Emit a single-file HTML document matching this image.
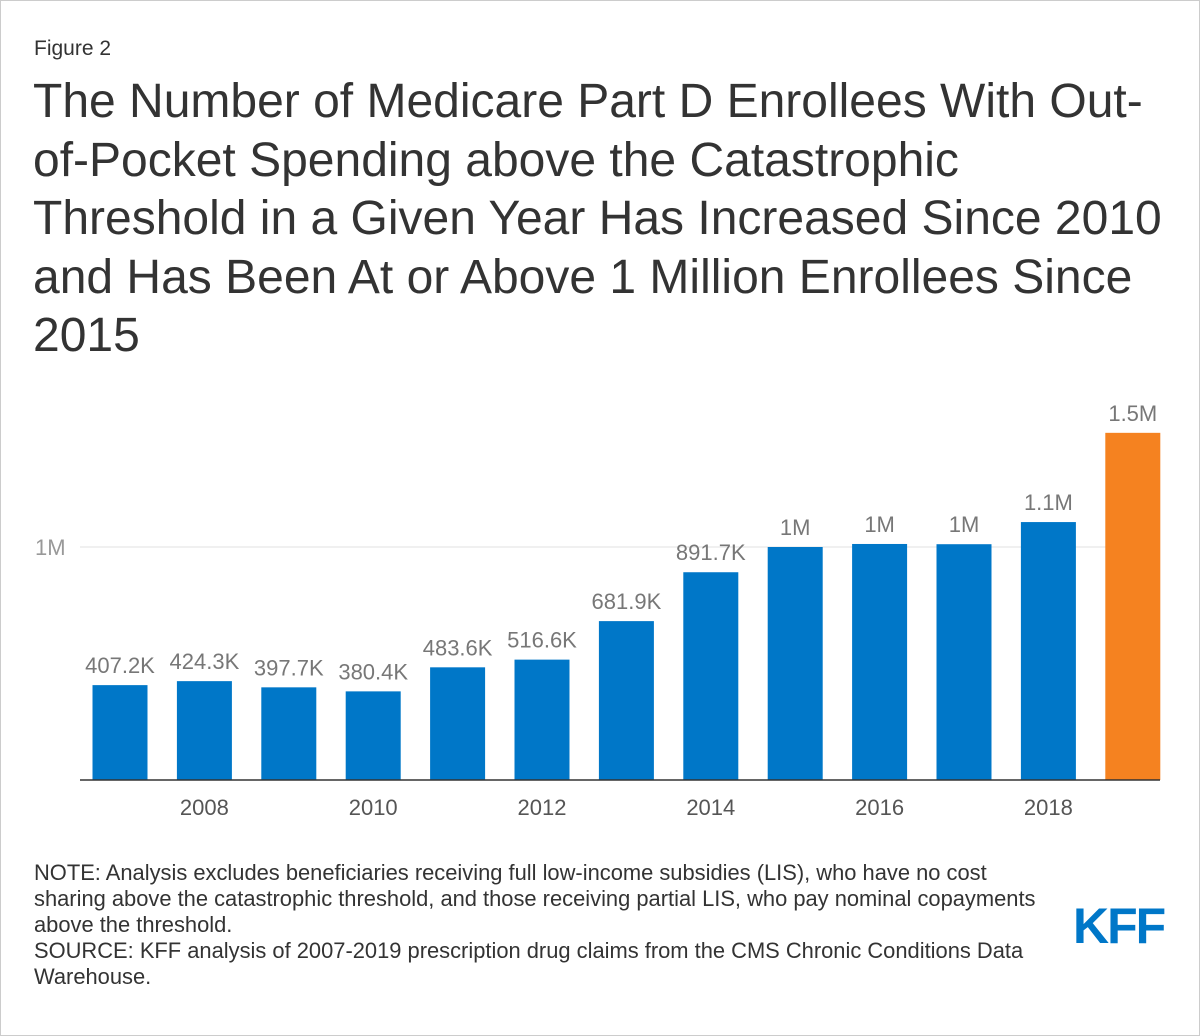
<!DOCTYPE html>
<html><head><meta charset="utf-8"><style>
body{margin:0;background:#fff;font-family:"Liberation Sans",Arial,sans-serif;}
#wrap{position:relative;width:1198px;height:1034px;border:1px solid #ccc;overflow:hidden;}
.t{position:absolute;margin:0;white-space:nowrap;}
</style></head><body>
<div id="wrap">
<div class="t" style="left:33px;top:36px;font-size:21px;color:#333;">Figure 2</div>
<div class="t" style="left:32px;top:72px;font-size:48px;line-height:58.5px;color:#333;">The Number of Medicare Part D Enrollees With Out-<br>of-Pocket Spending above the Catastrophic<br>Threshold in a Given Year Has Increased Since 2010<br>and Has Been At or Above 1 Million Enrollees Since<br>2015</div>
<svg id="chart" width="1200" height="850" style="position:absolute;left:-1px;top:-1px;"></svg>
<div class="t" style="left:33px;top:859px;font-size:21.9px;line-height:26px;color:#333;">NOTE: Analysis excludes beneficiaries receiving full low-income subsidies (LIS), who have no cost<br>sharing above the catastrophic threshold, and those receiving partial LIS, who pay nominal copayments<br>above the threshold.<br>SOURCE: KFF analysis of 2007-2019 prescription drug claims from the CMS Chronic Conditions Data<br>Warehouse.</div>
<div class="t" style="left:1072px;top:896px;font-size:50px;font-weight:bold;color:#0077c8;letter-spacing:-2px;">KFF</div>
</div>
<script>
const years=[2007,2008,2009,2010,2011,2012,2013,2014,2015,2016,2017,2018,2019];
const values=[407.2,424.3,397.7,380.4,483.6,516.6,681.9,891.7,1000,1013,1012,1107,1490];
const valueLabels=["407.2K","424.3K","397.7K","380.4K","483.6K","516.6K","681.9K","891.7K","1M","1M","1M","1.1M","1.5M"];
const tickYears=[2008,2010,2012,2014,2016,2018];
const svg=document.getElementById('chart');
const NS='http://www.w3.org/2000/svg';
const y=v=>780-v*0.233;
const x=yr=>120+(yr-2007)*84.4;
function mk(tag,attrs,text){const e=document.createElementNS(NS,tag);for(const k in attrs)e.setAttribute(k,attrs[k]);if(text!==undefined)e.textContent=text;svg.appendChild(e);return e;}
let g=mk('line',{x1:80,x2:1160,y1:y(1000),y2:y(1000),stroke:'#e0e0e0','stroke-width':1});


let yl=mk('text',{x:35,y:y(1000)+8,'font-size':22,fill:'#999','font-family':'Liberation Sans'},'1M');


years.forEach((yr,i)=>{
 const b=mk('rect',{x:x(yr)-27.5,y:y(values[i]),width:55,height:780-y(values[i]),fill:yr===2019?'#f58220':'#0077c8'});
 
 
 const l=mk('text',{x:x(yr),y:y(values[i])-12,'text-anchor':'middle','font-size':22,fill:'#777','font-family':'Liberation Sans'},valueLabels[i]);
 
 
});
let ax=mk('line',{x1:80,x2:1160,y1:780,y2:780,stroke:'#333','stroke-width':1.5});


tickYears.forEach(yr=>{
 const t=mk('text',{x:x(yr),y:815,'text-anchor':'middle','font-size':22,fill:'#555','font-family':'Liberation Sans'},String(yr));
 
 
});
</script>
</body></html>
